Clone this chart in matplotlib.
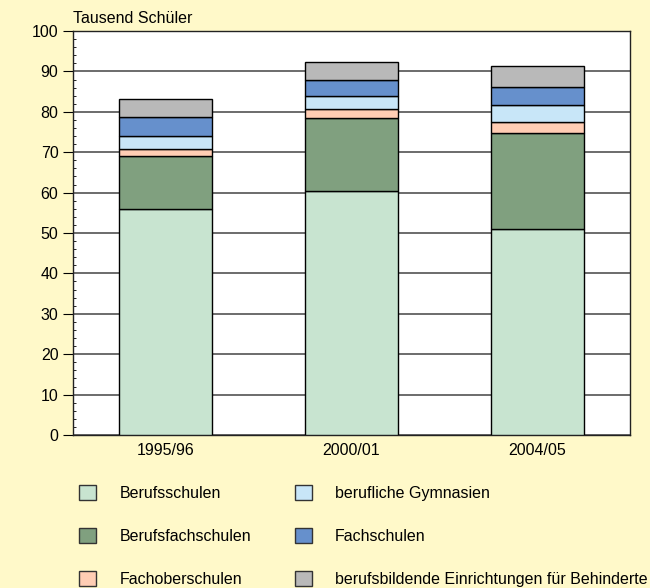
import numpy as np
import matplotlib.pyplot as plt
from matplotlib.patches import Patch
from matplotlib.ticker import MultipleLocator

plt.rcParams['font.family'] = ['Liberation Sans', 'DejaVu Sans']

jahre = ['1995/96', '2000/01', '2004/05']
schularten = ['Berufsschulen', 'Berufsfachschulen', 'Fachoberschulen',
              'berufliche Gymnasien', 'Fachschulen',
              'berufsbildende Einrichtungen für Behinderte']
berufsschulen = [55.9, 60.4, 51.0]
berufsfachschulen = [13.2, 18.1, 23.7]
fachoberschulen = [1.7, 2.3, 2.7]
gymnasien = [3.1, 3.2, 4.3]
fachschulen = [4.7, 3.8, 4.5]
behinderte = [4.6, 4.6, 5.2]
farben = ['#c8e4d0', '#80a07f', '#ffcdb4', '#c8e6f8', '#6690cc', '#b9b9b9']

werte = [berufsschulen, berufsfachschulen, fachoberschulen,
         gymnasien, fachschulen, behinderte]

fig = plt.figure(figsize=(6.5, 5.88), dpi=100)
fig.patch.set_facecolor('#fff9c9')
ax = fig.add_axes([0.1123, 0.2602, 0.857, 0.687])
ax.set_facecolor('white')

x = np.arange(len(jahre)) + 0.5
unten = np.zeros(len(jahre))
for w, f in zip(werte, farben):
    ax.bar(x, w, width=0.5, bottom=unten, color=f, edgecolor='black',
           linewidth=1, zorder=3)
    unten += np.array(w)

ax.set_xlim(0, 3)
ax.set_ylim(0, 100)
ax.set_xticks(x)
ax.set_xticklabels(jahre, fontsize=11.5)
ax.tick_params(axis='x', length=0, pad=6)
ax.yaxis.set_major_locator(MultipleLocator(10))
ax.yaxis.set_minor_locator(MultipleLocator(2))
ax.tick_params(axis='y', which='major', length=7, direction='out', labelsize=11.5)
ax.tick_params(axis='y', which='minor', length=2, direction='in')
ax.grid(axis='y', which='major', color='#444444', linewidth=1.1, zorder=1)
for s in ax.spines.values():
    s.set_color('#222222')
    s.set_linewidth(1)

fig.text(0.1123, 0.955, 'Tausend Schüler', fontsize=11.5, ha='left', va='bottom')

handles = [Patch(facecolor=f, edgecolor='#333333', linewidth=1) for f in farben]
fig.legend(handles, schularten, loc='upper left', bbox_to_anchor=(0.1, 0.2),
           ncol=2, frameon=False, fontsize=11.5, handlelength=1.05,
           handleheight=1.05, handletextpad=1.45, columnspacing=2.75,
           labelspacing=1.7)

fig.savefig('out.png', facecolor=fig.get_facecolor())
